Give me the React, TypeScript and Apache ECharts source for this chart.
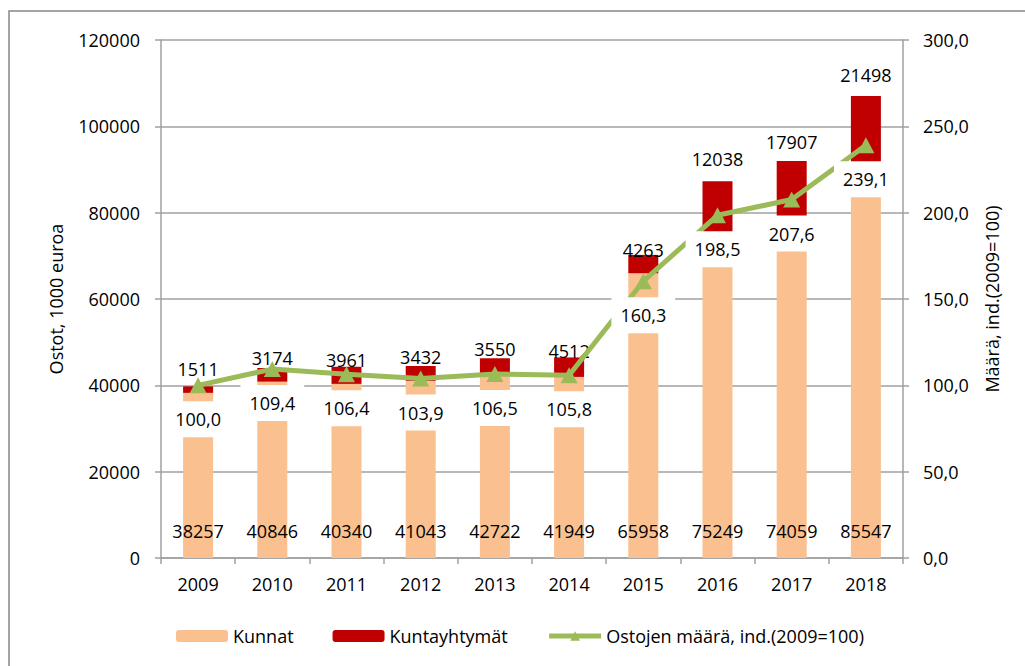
import React, { useEffect, useRef } from "react";
import * as echarts from "echarts";

const years = ["2009", "2010", "2011", "2012", "2013", "2014", "2015", "2016", "2017", "2018"];
const kunnat = [38257, 40846, 40340, 41043, 42722, 41949, 65958, 75249, 74059, 85547];
const kuntayhtymat = [1511, 3174, 3961, 3432, 3550, 4512, 4263, 12038, 17907, 21498];
const ostojenIndeksi = [100.0, 109.4, 106.4, 103.9, 106.5, 105.8, 160.3, 198.5, 207.6, 239.1];
const leftTicks = { min: 0, max: 120000, interval: 20000 };
const rightTicks = { min: 0, max: 300, interval: 50 };
// manual label nudges for the Kuntayhtymät value labels (as placed in the original)
const redLabelShift = [-6, 1, 4, 2, 2, 5, 6, -11, -8, -10];

const FONT = "'Open Sans', sans-serif";
const PEACH = "#FAC090";
const RED = "#C00000";
const GREEN = "#9BBB59";
const GRID_GRAY = "#A0A0A0";

export default function App() {
  const ref = useRef<HTMLDivElement>(null);

  useEffect(() => {
    if (!ref.current) return;
    const chart = echarts.init(ref.current, undefined, { renderer: "svg" });
    const textBase = { fontFamily: FONT, fontSize: 18, color: "#000" };

    chart.setOption({
      animation: false,
      backgroundColor: "#fff",
      textStyle: { fontFamily: FONT },
      graphic: [
        {
          type: "rect",
          shape: { x: 9, y: 11, width: 1200, height: 1000 },
          style: { fill: "none", stroke: "#868686", lineWidth: 1.5 },
          silent: true,
          z: -10,
        },
      ],
      grid: { left: 161, right: 122, top: 40, bottom: 108 },
      legend: {
        left: 176,
        top: 625,
        padding: 0,
        itemWidth: 52,
        itemHeight: 12,
        itemGap: 39,
        textStyle: { ...textBase, lineHeight: 22 },
        data: [
          "Kunnat",
          "Kuntayhtymät",
          { name: "Ostojen määrä, ind.(2009=100)", lineStyle: { width: 5, color: GREEN } },
        ],
      },
      xAxis: {
        type: "category",
        data: years,
        boundaryGap: true,
        axisLine: { lineStyle: { color: GRID_GRAY, width: 1.5 } },
        axisTick: { show: true, length: 6, interval: 0, lineStyle: { color: GRID_GRAY, width: 1.5 } },
        axisLabel: { ...textBase, margin: 15, lineHeight: 22 },
      },
      yAxis: [
        {
          type: "value",
          min: leftTicks.min,
          max: leftTicks.max,
          interval: leftTicks.interval,
          name: "Ostot, 1000 euroa",
          nameLocation: "middle",
          nameRotate: 90,
          nameGap: 96,
          nameTextStyle: { ...textBase },
          axisLine: { show: true, lineStyle: { color: GRID_GRAY, width: 1.5 } },
          axisTick: { show: true, length: 6, lineStyle: { color: GRID_GRAY, width: 1.5 } },
          axisLabel: { ...textBase, margin: 21, formatter: (v: number) => String(v) },
          splitLine: { show: true, lineStyle: { color: GRID_GRAY, width: 1.5 } },
        },
        {
          type: "value",
          min: rightTicks.min,
          max: rightTicks.max,
          interval: rightTicks.interval,
          position: "right",
          name: "Määrä, ind.(2009=100)",
          nameLocation: "middle",
          nameRotate: 90,
          nameGap: 80,
          nameTextStyle: { ...textBase },
          axisLine: { show: true, lineStyle: { color: GRID_GRAY, width: 1.5 } },
          axisTick: { show: true, length: 6, lineStyle: { color: GRID_GRAY, width: 1.5 } },
          axisLabel: {
            ...textBase,
            margin: 20,
            formatter: (v: number) => v.toFixed(1).replace(".", ","),
          },
          splitLine: { show: false },
        },
      ],
      series: [
        {
          name: "Kunnat",
          type: "bar",
          stack: "ostot",
          barWidth: 30,
          itemStyle: { color: PEACH },
          data: kunnat,
          label: {
            show: true,
            position: "insideBottom",
            distance: 16,
            ...textBase,
            lineHeight: 22,
          },
          z: 2,
        },
        {
          name: "Kuntayhtymät",
          type: "bar",
          stack: "ostot",
          barWidth: 30,
          itemStyle: { color: RED },
          data: kuntayhtymat.map((v, i) => ({
            value: v,
            label: { offset: [0, redLabelShift[i]] },
          })),
          label: {
            show: true,
            position: "top",
            distance: 0,
            ...textBase,
            lineHeight: 22,
          },
          z: 2,
        },
        {
          name: "Ostojen määrä, ind.(2009=100)",
          type: "line",
          yAxisIndex: 1,
          data: ostojenIndeksi,
          symbol: "triangle",
          symbolSize: [17, 16],
          lineStyle: { color: GREEN, width: 5 },
          itemStyle: { color: GREEN },
          label: {
            show: true,
            position: "bottom",
            distance: 8,
            ...textBase,
            lineHeight: 20,
            backgroundColor: "#fff",
            padding: [8, 9],
            formatter: (p: any) => Number(p.value).toFixed(1).replace(".", ","),
          },
          z: 5,
        },
      ],
    });

    return () => chart.dispose();
  }, []);

  return (
    <div
      ref={ref}
      style={{ position: "fixed", left: 0, top: 0, width: 1025, height: 666 }}
    />
  );
}
